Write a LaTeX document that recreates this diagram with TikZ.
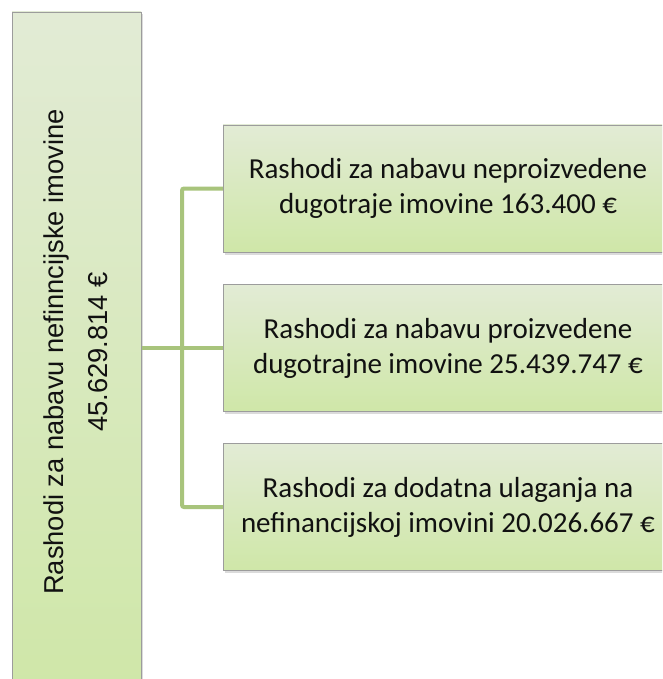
\documentclass[tikz,border=0pt]{standalone}
\usepackage{fontspec}
\setmainfont{Carlito}
\newfontfamily\arialf{Liberation Sans}
\usetikzlibrary{shadows}
\definecolor{boxtop}{HTML}{E2EBD5}
\definecolor{boxbot}{HTML}{CFE7A8}
\definecolor{boxline}{HTML}{9C9C9C}
\definecolor{connc}{HTML}{A8C47C}
\definecolor{txt}{HTML}{111111}
\tikzset{
  box/.style={draw=boxline, line width=0.9pt, top color=boxtop, bottom color=boxbot,
    drop shadow={opacity=0.28, shadow xshift=1.5pt, shadow yshift=-2.5pt},
    inner sep=0pt, outer sep=0pt},
  rbox/.style={box, minimum width=450pt, minimum height=127pt, align=center,
    text=txt, font=\fontsize{29}{35}\selectfont},
  ltxt/.style={rotate=90, anchor=base, text=txt, font=\arialf\fontsize{27.3}{32}\selectfont, inner sep=0pt},
  conn/.style={draw=connc, line width=4pt, rounded corners=2pt}
}
\begin{document}
\begin{tikzpicture}[x=1pt,y=-1pt]
\useasboundingbox (0,0) rectangle (662,679);
\clip (0,0) rectangle (662,679);
\fill[white] (0,0) rectangle (662,679);
% left tall box
\node[box, minimum width=129pt, minimum height=680pt] (left) at (76.5,352) {};
\node[ltxt] (lt1) at (63,352) {Rashodi za nabavu nefinncijske imovine};
\node[ltxt] (lt2) at (107,352) {45.629.814 €};
% right boxes
\node[rbox] (b1) at (448,188.5) {Rashodi za nabavu neproizvedene\\dugotraje imovine 163.400 €};
\node[rbox] (b2) at (448,348) {Rashodi za nabavu proizvedene\\dugotrajne imovine 25.439.747 €};
\node[rbox] (b3) at (448,507) {Rashodi za dodatna ulaganja na\\nefinancijskoj imovini 20.026.667 €};
% connectors
\coordinate (tx) at (182,348);
\draw[conn] (b1.west) -- (b1.west -| tx) -- (b3.west -| tx) -- (b3.west);
\draw[conn] (left.east |- b2.west) -- (b2.west);
% redraw boxes' borders over connector ends
\draw[boxline, line width=0.9pt] (b1.north west) -- (b1.south west);
\draw[boxline, line width=0.9pt] (b2.north west) -- (b2.south west);
\draw[boxline, line width=0.9pt] (b3.north west) -- (b3.south west);
\draw[boxline, line width=0.9pt] (left.north east) -- (left.south east);
\end{tikzpicture}
\end{document}
